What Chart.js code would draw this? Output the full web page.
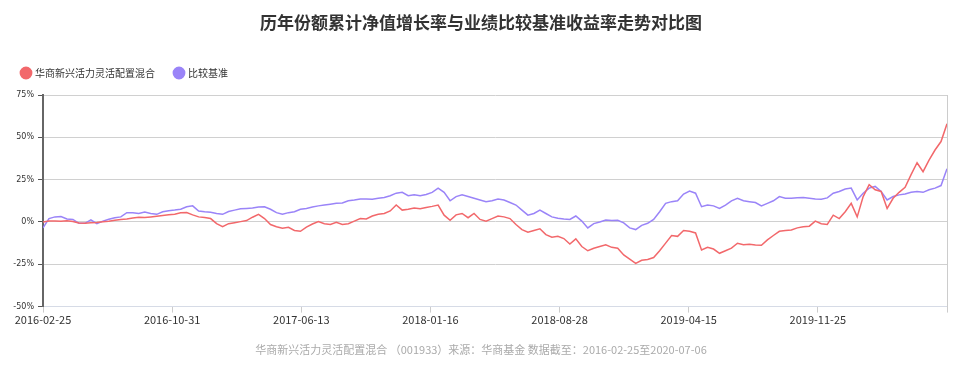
<!DOCTYPE html>
<html>
<head>
<meta charset="utf-8">
<script src="https://cdn.jsdelivr.net/npm/chart.js@4/dist/chart.umd.min.js"></script>
<style>
  html, body { margin: 0; padding: 0; background: #fff; }
  #wrap { width: 960px; height: 376px; position: relative; }
</style>
</head>
<body>
<div id="wrap"><canvas id="navChart"></canvas></div>
<script>
// x axis is in trading days since 2016-02-25; one sample every 7 days
const dayStep = 7;
const tickEvery = 151;
const tickDates = ['2016-02-25', '2016-10-31', '2017-06-13', '2018-01-16', '2018-08-28', '2019-04-15', '2019-11-25'];

const seriesNames = ['华商新兴活力灵活配置混合', '比较基准'];

// cumulative NAV growth of the fund, %
const fundValues = [
  0, 0.5, 0.6, 0.4, 0.7, 0.3, -0.6, -0.8, -0.5, -0.3,
  0.1, 0.4, 1.0, 1.5, 1.8, 2.3, 2.8, 2.6, 3.0, 3.4,
  3.8, 4.2, 4.6, 5.5, 5.6, 4.2, 3.0, 2.6, 2.0, -1.0,
  -2.8, -1.0, -0.4, 0.2, 0.8, 2.8, 4.5, 2.0, -1.5, -2.8,
  -3.7, -3.2, -5.0, -5.5, -3.0, -1.2, 0.2, -1.0, -1.5, -0.2,
  -1.5, -1.0, 0.5, 2.0, 1.8, 3.5, 4.5, 5.0, 6.5, 10.0,
  7.0, 7.5, 8.2, 7.8, 8.5, 9.2, 10.0, 4.0, 1.0, 4.2,
  5.0, 2.5, 5.0, 1.5, 0.5, 2.0, 3.5, 3.0, 2.0, -1.5,
  -4.5, -6.0, -5.0, -4.0, -7.5, -9.0, -8.5, -9.8, -13.0, -10.0,
  -14.5, -17.0, -15.5, -14.5, -13.5, -15.0, -15.5, -19.5, -22.0, -24.5,
  -22.6, -22.2, -21.0, -17.0, -12.5, -8.0, -8.5, -5.0, -5.5, -6.5,
  -16.5, -15.0, -16.0, -18.5, -17.0, -15.5, -12.6, -13.5, -13.2, -13.6,
  -13.8, -10.6, -8.0, -5.5, -5.0, -4.7, -3.5, -2.8, -2.5, 0.5,
  -1.0, -1.5, 4.0, 2.0, 6.0, 11.0, 3.0, 15.0, 22.0, 19.0,
  18.0, 8.0, 14.0, 17.5, 20.5, 28.0, 35.0, 29.7, 36.5, 42.5,
  47.5, 58.0
];

// benchmark return, %
const benchValues = [
  -3.5, 2.0, 3.0, 3.2, 1.8, 1.5, -0.8, -0.8, 1.2, -1.0,
  0.5, 1.6, 2.5, 3.0, 5.5, 5.5, 5.0, 5.8, 5.0, 4.5,
  6.0, 6.6, 7.0, 7.5, 9.0, 9.5, 6.5, 6.0, 5.7, 5.0,
  4.5, 6.2, 7.0, 7.8, 8.0, 8.2, 8.8, 9.0, 7.5, 5.5,
  4.5, 5.5, 6.0, 7.5, 8.0, 8.8, 9.5, 10.0, 10.5, 11.0,
  11.2, 12.5, 13.0, 13.6, 13.5, 13.4, 14.0, 14.5, 15.5, 17.0,
  17.5, 15.5, 16.0, 15.5, 16.2, 17.5, 20.0, 17.5, 12.5, 15.0,
  16.0, 15.0, 14.0, 13.0, 12.0, 12.5, 13.5, 13.0, 11.5, 10.0,
  7.0, 4.0, 5.0, 7.0, 5.0, 3.0, 2.2, 1.8, 1.5, 3.5,
  0.5, -3.5, -1.0, 0.0, 1.2, 0.8, 1.0, -0.5, -3.5, -4.5,
  -2.0, -0.8, 1.5, 6.0, 11.0, 12.0, 12.5, 16.5, 18.3, 17.0,
  9.0, 10.0, 9.5, 8.0, 10.0, 12.5, 14.0, 12.5, 12.0, 11.5,
  9.5, 11.0, 12.5, 15.0, 14.0, 14.0, 14.3, 14.5, 14.0, 13.5,
  13.4, 14.2, 17.0, 18.0, 19.5, 20.0, 13.0, 17.0, 20.0, 21.0,
  18.0, 13.0, 15.0, 16.0, 16.5, 17.5, 18.0, 17.5, 19.0, 20.0,
  21.5, 31.5
];

const lastDay = (fundValues.length - 1) * dayStep;
const toPoints = arr => arr.map((v, i) => ({ x: i * dayStep, y: v }));

const cjk = '"Noto Sans CJK SC", "Noto Sans", sans-serif';

// legend sits a little higher above the plot than chart.js leaves by default
const legendGap = {
  id: 'legendGap',
  beforeInit(chart) {
    const fit = chart.legend.fit;
    chart.legend.fit = function () {
      fit.call(this);
      this.height += 7;
    };
  }
};

const ctx = document.getElementById('navChart').getContext('2d');
new Chart(ctx, {
  type: 'line',
  data: {
    datasets: [{
      label: seriesNames[0],
      data: toPoints(fundValues),
      borderColor: '#f2686b',
      backgroundColor: '#f2686b',
      borderWidth: 1.5,
      pointRadius: 0,
      tension: 0
    }, {
      label: seriesNames[1],
      data: toPoints(benchValues),
      borderColor: '#9a84f8',
      backgroundColor: '#9a84f8',
      borderWidth: 1.5,
      pointRadius: 0,
      tension: 0
    }]
  },
  options: {
    responsive: true,
    maintainAspectRatio: false,
    animation: false,
    layout: { padding: { left: 2, right: 0, top: 0, bottom: 0 } },
    plugins: {
      title: {
        display: true,
        text: '历年份额累计净值增长率与业绩比较基准收益率走势对比图',
        color: '#333',
        font: { family: cjk, size: 17, weight: 'bold' },
        padding: { top: 12, bottom: 15.6 }
      },
      subtitle: {
        display: true,
        position: 'bottom',
        text: '华商新兴活力灵活配置混合 （001933）来源：华商基金 数据截至：2016-02-25至2020-07-06',
        color: '#aaa',
        font: { family: cjk, size: 11 },
        padding: { top: 15, bottom: 20 }
      },
      legend: {
        position: 'top',
        align: 'start',
        labels: {
          usePointStyle: true,
          pointStyle: 'circle',
          boxWidth: 8,
          boxHeight: 8,
          padding: 20,
          color: '#333',
          font: { family: cjk, size: 10 }
        }
      },
      tooltip: { enabled: false }
    },
    scales: {
      x: {
        type: 'linear',
        min: 0,
        max: lastDay,
        grid: {
          drawOnChartArea: false,
          drawTicks: true,
          tickLength: 6,
          tickColor: '#ccc'
        },
        border: { color: '#d6dbe6', width: 1 },
        ticks: {
          stepSize: tickEvery,
          includeBounds: false,
          autoSkip: false,
          maxRotation: 0,
          padding: 1,
          color: '#333',
          font: { family: cjk, size: 11 },
          callback: v => tickDates[Math.round(v / tickEvery)] || ''
        }
      },
      y: {
        min: -50,
        max: 75,
        afterFit(scale) { scale.width = 41; },
        grid: {
          color: '#d0d0d0',
          lineWidth: 1,
          tickLength: 5,
          tickColor: '#555'
        },
        border: { color: '#666', width: 2 },
        ticks: {
          stepSize: 25,
          padding: 4,
          color: '#333',
          font: { family: '"DejaVu Sans", sans-serif', size: 8 },
          callback: v => v + '%'
        }
      },
      yRight: {
        position: 'right',
        min: -50,
        max: 75,
        afterFit(scale) { scale.width = 13; },
        grid: { drawOnChartArea: false, drawTicks: false },
        border: { color: '#ccc', width: 1 },
        ticks: { display: false }
      }
    }
  },
  plugins: [legendGap]
});
</script>
</body>
</html>
